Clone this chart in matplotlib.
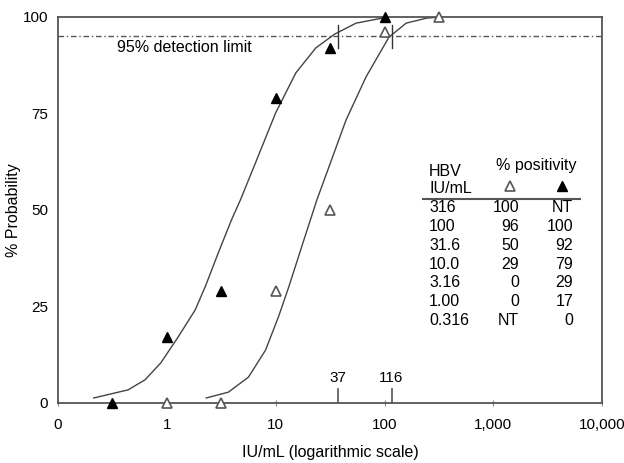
import matplotlib
matplotlib.use('Agg')
import matplotlib.pyplot as plt
import numpy as np

plt.rcParams['font.family'] = ['Liberation Sans', 'DejaVu Sans']

# dilution panel (IU/mL) and % positive for the two assays
conc = [316, 100, 31.6, 10.0, 3.16, 1.00, 0.316]
conc_labels = ["316", "100", "31.6", "10.0", "3.16", "1.00", "0.316"]
open_pos = [100, 96, 50, 29, 0, 0, None]
filled_pos = [None, 100, 92, 79, 29, 17, 0]

# fitted curves
filled_curve_x = [0.213, 0.44, 0.63, 0.88, 1.27, 1.82, 2.25, 2.97, 3.92, 4.74,
                  6.52, 9.97, 15.3, 23.4, 35.0, 54.7, 95.1]
filled_curve_y = [1.3, 3.4, 6.0, 10.4, 17.1, 24.1, 30.1, 38.9, 47.4, 52.6,
                  62.2, 75.1, 85.5, 92.0, 95.6, 98.4, 99.7]
open_curve_x = [2.30, 3.67, 5.62, 8.07, 10.6, 13.2, 17.3, 23.9, 30.8, 44.3,
                67.7, 110, 158, 243, 299]
open_curve_y = [1.3, 2.8, 6.7, 13.7, 22.3, 30.1, 40.4, 52.6, 61.1, 73.3,
                84.5, 94.8, 98.4, 99.7, 99.9]

limit = 95
limit_conc = [37, 116]

xticks = [0.1, 1, 10, 100, 1000, 10000]
xticklabels = ["0", "1", "10", "100", "1,000", "10,000"]
yticks = [0, 25, 50, 75, 100]

fs = 11.5

fig = plt.figure(figsize=(6.24, 4.63), dpi=100)
ax = fig.add_axes([0.093, 0.1296, 0.872, 0.8337])

ax.set_xscale('log')
ax.set_xlim(0.1, 10000)
ax.set_ylim(0, 100)

ax.plot(filled_curve_x, filled_curve_y, color='#444444', lw=1)
ax.plot(open_curve_x, open_curve_y, color='#444444', lw=1)

fx = [c for c, p in zip(conc, filled_pos) if p is not None]
fy = [p for p in filled_pos if p is not None]
ox = [c for c, p in zip(conc, open_pos) if p is not None]
oy = [p for p in open_pos if p is not None]
ax.plot(fx, fy, '^', color='black', ms=7, clip_on=False, zorder=5)
ax.plot(ox, oy, '^', mfc='white', mec='#555555', mew=1.2, ms=7,
        clip_on=False, zorder=5)

ax.axhline(limit, color='#555555', lw=1, ls=(0, (4, 2, 1, 2)))
ax.text(0.35, 92, "95% detection limit", fontsize=fs, va='center')
for c in limit_conc:
    ax.plot([c, c], [limit - 3, limit + 3], color='#333333', lw=1)
    ax.plot([c, c], [0, 3.7], color='#555555', lw=1.2)
    ax.text(c, 4.6, str(c), ha='center', va='bottom', fontsize=fs - 0.5)

ax.set_xticks(xticks)
ax.set_xticklabels(xticklabels)
ax.xaxis.set_minor_locator(matplotlib.ticker.NullLocator())
ax.set_yticks(yticks)
ax.tick_params(axis='x', direction='inout', length=4, color='#888888',
               labelsize=fs - 0.5, pad=9)
ax.tick_params(axis='y', length=0, labelsize=fs - 0.5, pad=7)
for s in ax.spines.values():
    s.set_color('#555555')
    s.set_linewidth(1.3)

ax.set_xlabel("IU/mL (logarithmic scale)", fontsize=fs, labelpad=9)
ax.set_ylabel("% Probability", fontsize=fs, labelpad=1)

# inset table
tr = ax.transAxes
def axfrac(px, py):
    return ((px - 58) / 544, (403 - py) / 386)

ax.text(*axfrac(429, 172), "HBV", transform=tr, fontsize=fs, va='center')
ax.text(*axfrac(429, 189), "IU/mL", transform=tr, fontsize=fs, va='center')
ax.text(*axfrac(536, 166), "% positivity", transform=tr, fontsize=fs,
        va='center', ha='center')
ax.plot(*axfrac(510, 186), '^', transform=tr, mfc='white', mec='#555555',
        mew=1.2, ms=7)
ax.plot(*axfrac(562, 186), '^', transform=tr, color='black', ms=7)
x0, y0 = axfrac(423, 199)
x1, _ = axfrac(580, 199)
ax.plot([x0, x1], [y0, y0], transform=tr, color='#555555', lw=1.5)
for i, lab in enumerate(conc_labels):
    py = 208 + i * 18.7
    ax.text(*axfrac(429, py), lab, transform=tr, fontsize=fs, va='center')
    o = "NT" if open_pos[i] is None else str(open_pos[i])
    f = "NT" if filled_pos[i] is None else str(filled_pos[i])
    ax.text(*axfrac(519, py), o, transform=tr, fontsize=fs, va='center',
            ha='right')
    ax.text(*axfrac(573, py), f, transform=tr, fontsize=fs, va='center',
            ha='right')

fig.savefig('out.png', dpi=100)
